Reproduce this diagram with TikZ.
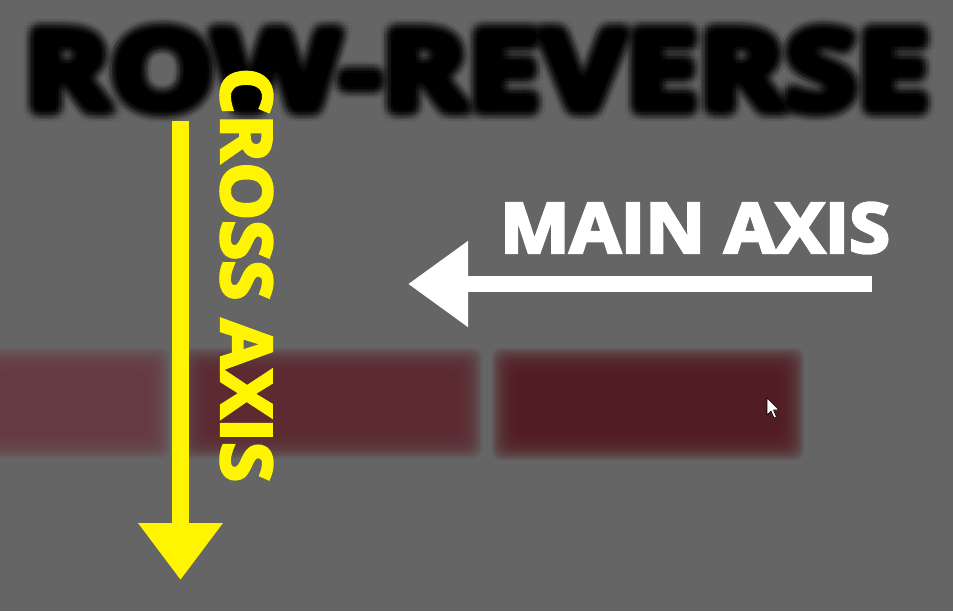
\documentclass[tikz,border=0pt]{standalone}
\usepackage{fontspec}
\setmainfont{Open Sans}
\newfontfamily\heavyfont{Open Sans}[UprightFeatures={FakeBold=4}, BoldFeatures={FakeBold=4}]
\usetikzlibrary{arrows.meta}

\definecolor{bggray}{HTML}{656565}
\definecolor{signyellow}{HTML}{FFF500}
\definecolor{boxA}{HTML}{6A3A42}
\definecolor{boxB}{HTML}{5C2830}
\definecolor{boxC}{HTML}{521A20}

% blurred box: stacked translucent layers shrinking inwards
\newcommand{\softbox}[5]{%
  \foreach \k in {0,...,14}{%
    \fill[#5, opacity=0.16, rounded corners=10pt]
      ({#1+\k*1.8},{#2+\k*1.8}) rectangle ({#3-\k*1.8},{#4-\k*1.8});
  }%
}

\newcommand{\titleword}{\resizebox{905pt}{80pt}{\heavyfont\bfseries ROW-REVERSE}}

\tikzset{
  axisarrow/.style={line width=#1, line cap=butt},
  bigword/.style={inner sep=0pt, anchor=center},
}

\begin{document}
\begin{tikzpicture}[x=1pt,y=-1pt]
\useasboundingbox (0,0) rectangle (953,611);
\fill[bggray] (0,0) rectangle (953,611);

% out-of-focus heading
\node[bigword, text=black, opacity=0.14] (title) at (477,70) {\titleword};
\foreach \a in {0,45,...,315}{
  \node[bigword, text=black, opacity=0.11] at ({477+3*cos(\a)},{70+3*sin(\a)}) {\titleword};
}
\foreach \a in {0,30,...,330}{
  \node[bigword, text=black, opacity=0.08] at ({477+6.5*cos(\a)},{70+6.5*sin(\a)}) {\titleword};
}
\foreach \a in {15,45,...,345}{
  \node[bigword, text=black, opacity=0.05] at ({477+10*cos(\a)},{70+10*sin(\a)}) {\titleword};
}

% out-of-focus flex items
\softbox{-25}{348}{170}{458}{boxA}
\softbox{182}{348}{482}{458}{boxB}
\softbox{492}{348}{804}{460}{boxC}

% mouse pointer
\coordinate (ptr) at (767,398);
\fill[white, draw=black, line width=0.6pt, line join=round]
  (ptr) -- ++(0,17) -- ++(4,-4) -- ++(3,7) -- ++(2.5,-1) -- ++(-3,-7) -- ++(5.5,0) -- cycle;

% main axis arrow and label
\coordinate (mainStart) at (872,284);
\coordinate (mainTip) at (408,284);
\draw[white, axisarrow=16pt, -{Triangle[length=60pt,width=82pt]}] (mainStart) -- (mainTip);
\node[bigword, text=white] (mainLabel) at (695,228) {\resizebox{390pt}{50pt}{\heavyfont\bfseries MAIN AXIS}};

% cross axis arrow and label
\coordinate (crossStart) at (180.5,121);
\coordinate (crossTip) at (180.5,580);
\draw[signyellow, axisarrow=17pt, -{Triangle[length=57pt,width=81pt]}] (crossStart) -- (crossTip);
\node[bigword, text=signyellow, rotate=-90] (crossLabel) at (246.5,275) {\resizebox{414pt}{51pt}{\heavyfont\bfseries CROSS AXIS}};
\end{tikzpicture}
\end{document}
